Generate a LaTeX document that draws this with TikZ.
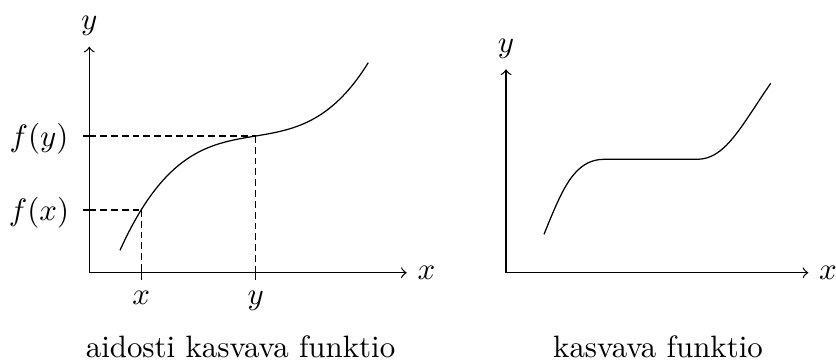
\documentclass[tikz,border=0pt]{standalone}
\begin{document}
\begin{tikzpicture}[x=0.3236pt,y=-0.3236pt,
  axisline/.style={->},
  guide/.style={dash pattern=on 2.2pt off 1.3pt},
  tickmark/.style={},
  curveline/.style={},
  baselbl/.style={anchor=base}]
\useasboundingbox (0,0) rectangle (836,360);
% ---------- left plot ----------
\coordinate (O1) at (89.3,272.7);
\coordinate (X1) at (406.7,272.7);
\coordinate (Y1) at (89.3,46.7);
\draw[axisline] (O1) -- (X1) node[right] (lx1) {$x$};
\draw[axisline] (O1) -- (Y1) node[above] (ly1) {$y$};
\draw[curveline] plot[domain=-1.357:1.126, samples=90, smooth]
  ({255.7+100*\x}, {136-(37.5*\x*\x*\x+1.0*\x*\x+16.5*\x)});
\coordinate (P) at (141.2,209.9);
\coordinate (Q) at (255.7,136);
\coordinate (Px) at (141.2,272.7);
\coordinate (Py) at (89.3,209.9);
\coordinate (Qx) at (255.7,272.7);
\coordinate (Qy) at (89.3,136);
\draw[guide] (Py) -- (P);
\draw[guide] (P) -- (Px);
\draw[guide] (Qy) -- (Q);
\draw[guide] (Q) -- (Qx);
\draw[tickmark] ([xshift=-2.2pt]Py) -- ([xshift=2.2pt]Py);
\draw[tickmark] ([xshift=-2.2pt]Qy) -- ([xshift=2.2pt]Qy);
\draw[tickmark] ([yshift=-2.2pt]Px) -- ([yshift=2.2pt]Px);
\draw[tickmark] ([yshift=-2.2pt]Qx) -- ([yshift=2.2pt]Qx);
\node (lfy) at (39,139.2) {$f(y)$};
\node (lfx) at (39,212.5) {$f(x)$};
\node[baselbl] (lpx) at (141.2,304.5) {$x$};
\node[baselbl] (lqy) at (255.7,304.5) {$y$};
\node[baselbl] (cap1) at (240.5,357.3) {aidosti kasvava funktio};
% ---------- right plot ----------
\coordinate (O2) at (506,272.7);
\coordinate (X2) at (808.3,272.7);
\coordinate (Y2) at (506,69.3);
\draw[axisline] (O2) -- (X2) node[right] (lx2) {$x$};
\draw[axisline] (O2) -- (Y2) node[above] (ly2) {$y$};
\draw[curveline] (544,234.3) .. controls (562,190) and (574,159.3) .. (604,159.3)
  -- (697,159.3) .. controls (725,159.3) and (740,128) .. (770.7,83.3);
\node[baselbl] (cap2) at (658,357.3) {kasvava funktio};
\end{tikzpicture}
\end{document}
